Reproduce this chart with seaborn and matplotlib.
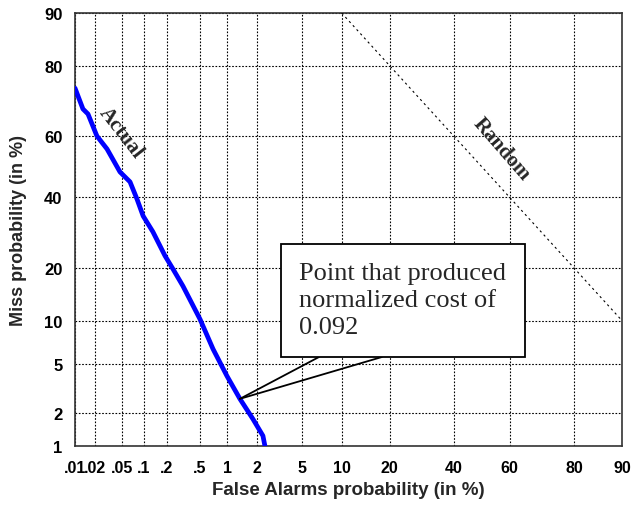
import numpy as np
import pandas as pd
import matplotlib
matplotlib.use('Agg')
import matplotlib.pyplot as plt
import seaborn as sns
from statistics import NormalDist

# DET curve values (in %)
fa_actual = [0.01, 0.0133, 0.0159, 0.0217, 0.0306, 0.047, 0.065, 0.081, 0.098,
             0.132, 0.189, 0.238, 0.315, 0.50, 0.70, 0.99, 1.35, 1.82, 2.27, 2.37]
miss_actual = [74.4, 68.5, 67.0, 60.1, 55.9, 48.3, 45.0, 39.4, 34.1,
               29.4, 22.9, 19.7, 16.0, 10.2, 6.45, 4.07, 2.66, 1.78, 1.25, 1.0]

fa_random = [10, 90]
miss_random = [90, 10]

x_ticks = [0.01, 0.02, 0.05, 0.1, 0.2, 0.5, 1, 2, 5, 10, 20, 40, 60, 80, 90]
x_labels = ['.01', '.02', '.05', '.1', '.2', '.5', '1', '2', '5', '10', '20', '40', '60', '80', '90']
y_ticks = [1, 2, 5, 10, 20, 40, 60, 80, 90]
y_labels = ['1', '2', '5', '10', '20', '40', '60', '80', '90']

# operating point for the callout
point_fa = 1.35
point_miss = 2.66

# probit scale helpers
nd = NormalDist()
_ppf = np.vectorize(lambda p: nd.inv_cdf(min(max(p / 100.0, 1e-9), 1 - 1e-9)),
                    otypes=[float])
_cdf = np.vectorize(lambda z: nd.cdf(z) * 100.0, otypes=[float])


def probit(v):
    return _ppf(np.asarray(v, dtype=float))


def inv_probit(v):
    return _cdf(np.asarray(v, dtype=float))


sns.set_style('white')
plt.rcParams['font.family'] = ['Liberation Sans', 'DejaVu Sans']

fig = plt.figure(figsize=(6.35, 5.06), dpi=100)
ax = fig.add_axes([75 / 635, 59 / 506, 547 / 635, 433 / 506])
ax.set_xscale('function', functions=(probit, inv_probit))
ax.set_yscale('function', functions=(probit, inv_probit))

actual = pd.DataFrame({'fa': fa_actual, 'miss': miss_actual})
random_line = pd.DataFrame({'fa': fa_random, 'miss': miss_random})

sns.lineplot(data=random_line, x='fa', y='miss', ax=ax, color='black',
             linewidth=0.8, linestyle=(0, (2, 3)), sort=False, zorder=3)
sns.lineplot(data=actual, x='fa', y='miss', ax=ax, color='#0000ff',
             linewidth=3.4, sort=False, zorder=4)

ax.set_xlim(0.01, 90)
ax.set_ylim(1, 90)
ax.set_xticks(x_ticks)
ax.set_xticklabels(x_labels)
ax.set_yticks(y_ticks)
ax.set_yticklabels(y_labels)
ax.minorticks_off()
ax.tick_params(direction='in', length=4, width=0.8, colors='black',
               labelsize=12)
ax.tick_params(axis='x', pad=10, labelsize=11.5)
ax.tick_params(axis='y', pad=9)
for lab in ax.get_xticklabels() + ax.get_yticklabels():
    lab.set_fontweight('bold')

ax.grid(True, color='black', linestyle=(0, (1.5, 1.5)), linewidth=0.8)
for sp in ax.spines.values():
    sp.set_color('#333333')
    sp.set_linewidth(1.2)

ax.set_xlabel('False Alarms probability (in %)', fontsize=13.5, fontweight='bold')
ax.set_ylabel('Miss probability (in %)', fontsize=13, fontweight='bold')
ax.xaxis.set_label_coords(0.5, -0.081)
ax.yaxis.set_label_coords(-0.088, 0.5)

# curve labels
ax.text(0.084, 0.724, 'Actual', transform=ax.transAxes, rotation=-52,
        ha='center', va='center', fontsize=15, fontweight='bold',
        family=['Liberation Serif', 'DejaVu Serif'])
ax.text(0.779, 0.686, 'Random', transform=ax.transAxes, rotation=-49,
        ha='center', va='center', fontsize=15, fontweight='bold',
        family=['Liberation Serif', 'DejaVu Serif'])

# callout
ax.text(0.5996, 0.337, 'Point that produced\nnormalized cost of\n0.092',
        transform=ax.transAxes, ha='center', va='center', multialignment='left',
        fontsize=19, linespacing=1.3, family=['Liberation Serif', 'DejaVu Serif'],
        zorder=6,
        bbox=dict(boxstyle='square,pad=0.7', fc='white', ec='black', lw=1.3))
for bx in (0.446, 0.561):
    ax.annotate('', xy=(point_fa, point_miss), xycoords='data',
                xytext=(bx, 0.2055), textcoords='axes fraction',
                arrowprops=dict(arrowstyle='-', color='black', lw=1.3,
                                shrinkA=0, shrinkB=0), zorder=5)

fig.savefig('out.png', dpi=100)
